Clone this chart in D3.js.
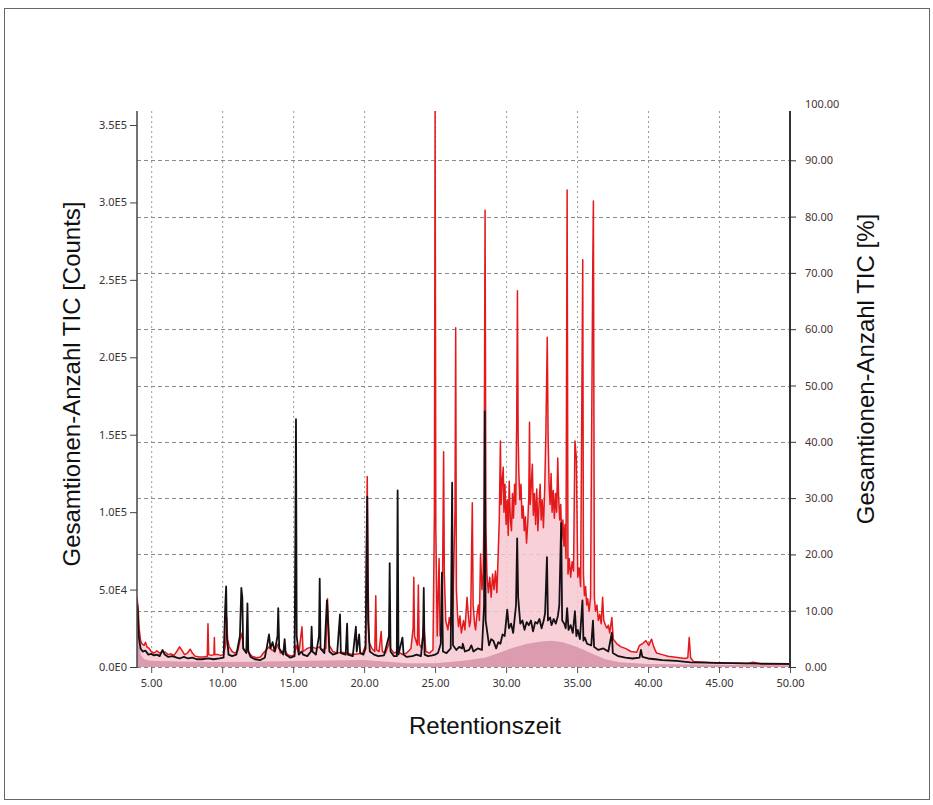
<!DOCTYPE html>
<html>
<head>
<meta charset="utf-8">
<script src="https://cdn.jsdelivr.net/npm/d3@7"></script>
<style>
  body { margin: 0; background: #fff; }
  .tick text { font-family: "Noto Sans", sans-serif; font-size: 11px; fill: #3a3333; }
  .titel { font-family: "Liberation Sans", Arial, sans-serif; font-size: 24px; fill: #111; }
</style>
</head>
<body>
<script>
// Achsen-Ticks
var xTicks = [5, 10, 15, 20, 25, 30, 35, 40, 45, 50];
var linksTicks = [0, 50000, 100000, 150000, 200000, 250000, 300000, 350000];
var rechtsTicks = [0, 10, 20, 30, 40, 50, 60, 70, 80, 90, 100];

// Rote Spur: [Retentionszeit, Counts]
var rotSpur = [
  [4.00, 45000], [4.08, 38000], [4.15, 25000], [4.25, 17000], [4.35, 15000], [4.50, 14000],
  [4.60, 16000], [4.70, 13000], [4.85, 12000], [5.00, 10000], [5.20, 9000], [5.40, 10500],
  [5.60, 9000], [5.80, 10000], [6.00, 9500], [6.20, 8000], [6.40, 8500], [6.60, 7500],
  [6.80, 10000], [7.00, 13000], [7.15, 11000], [7.35, 8000], [7.55, 9000], [7.75, 11500],
  [7.90, 9000], [8.10, 7000], [8.40, 6500], [8.70, 6500], [8.95, 7000], [9.00, 28000],
  [9.05, 8000], [9.25, 7500], [9.42, 8000], [9.45, 19000], [9.48, 8000], [9.70, 8000],
  [9.90, 7500], [10.10, 8000], [10.25, 15000], [10.32, 32000], [10.38, 18000], [10.50, 13000],
  [10.70, 10000], [10.90, 9000], [11.10, 10500], [11.25, 17000], [11.40, 22000], [11.50, 12000],
  [11.70, 10000], [11.80, 12000], [11.90, 9000], [12.10, 7000], [12.40, 6000], [12.70, 6500],
  [12.90, 9000], [13.10, 11000], [13.30, 13000], [13.50, 11000], [13.70, 10000], [13.95, 15000],
  [14.10, 9000], [14.40, 11000], [14.60, 8000], [14.90, 7000], [15.10, 8000], [15.20, 14000],
  [15.40, 9000], [15.62, 26000], [15.70, 10000], [16.00, 12000], [16.30, 13000], [16.60, 12000],
  [16.85, 13000], [17.00, 11000], [17.30, 12000], [17.42, 44000], [17.55, 14000], [17.80, 10000],
  [18.10, 9000], [18.40, 9500], [18.80, 9000], [19.20, 8000], [19.60, 8500], [19.90, 9000],
  [20.10, 14000], [20.18, 97000], [20.22, 123000], [20.27, 60000], [20.35, 16000], [20.55, 12000],
  [20.75, 10000], [20.82, 46000], [20.88, 11000], [21.05, 10000], [21.20, 23000], [21.28, 10000],
  [21.50, 9000], [21.75, 15000], [21.80, 38000], [21.85, 12000], [22.10, 9000], [22.40, 10000],
  [22.70, 8000], [23.00, 9000], [23.30, 12000], [23.45, 25000], [23.50, 58000], [23.55, 20000],
  [23.75, 14000], [23.82, 53000], [23.88, 15000], [24.05, 12000], [24.20, 28000], [24.35, 10000],
  [24.60, 9000], [24.85, 11000], [24.95, 100000], [25.00, 360000], [25.05, 90000], [25.15, 20000],
  [25.28, 70000], [25.35, 20000], [25.50, 30000], [25.60, 139000], [25.65, 60000], [25.75, 30000],
  [25.90, 24000], [26.00, 32000], [26.10, 26000], [26.25, 40000], [26.40, 100000], [26.45, 219000],
  [26.50, 50000], [26.58, 34000], [26.65, 26000], [26.75, 33000], [26.85, 22000], [27.00, 30000],
  [27.10, 24000], [27.25, 45000], [27.32, 36000], [27.42, 26000], [27.50, 30000], [27.62, 106000],
  [27.68, 40000], [27.78, 28000], [27.85, 24000], [27.95, 34000], [28.05, 40000], [28.12, 30000],
  [28.20, 73000], [28.30, 50000], [28.38, 60000], [28.45, 100000], [28.52, 295000], [28.58, 90000],
  [28.65, 60000], [28.75, 48000], [28.85, 58000], [28.95, 45000], [29.05, 60000], [29.15, 50000],
  [29.25, 62000], [29.35, 48000], [29.45, 75000], [29.52, 95000], [29.60, 146000], [29.65, 105000],
  [29.72, 120000], [29.80, 129000], [29.85, 100000], [29.92, 118000], [30.00, 92000], [30.08, 108000],
  [30.15, 85000], [30.22, 120000], [30.30, 95000], [30.38, 88000], [30.45, 112000], [30.52, 96000],
  [30.60, 118000], [30.68, 105000], [30.75, 160000], [30.80, 243000], [30.85, 150000], [30.90, 125000],
  [30.97, 108000], [31.05, 118000], [31.12, 96000], [31.20, 104000], [31.28, 88000], [31.36, 97000],
  [31.44, 80000], [31.52, 92000], [31.60, 110000], [31.65, 158000], [31.70, 105000], [31.78, 118000],
  [31.85, 131000], [31.92, 98000], [32.00, 112000], [32.08, 92000], [32.16, 115000], [32.24, 88000],
  [32.32, 105000], [32.40, 118000], [32.47, 95000], [32.55, 108000], [32.63, 90000], [32.72, 115000],
  [32.80, 150000], [32.90, 213000], [32.96, 150000], [33.03, 118000], [33.10, 105000], [33.17, 125000],
  [33.24, 100000], [33.32, 114000], [33.40, 96000], [33.48, 112000], [33.56, 100000], [33.64, 135000],
  [33.70, 110000], [33.78, 95000], [33.85, 105000], [33.92, 82000], [34.00, 95000], [34.08, 78000],
  [34.15, 92000], [34.22, 70000], [34.30, 308000], [34.36, 60000], [34.45, 70000], [34.55, 58000],
  [34.65, 68000], [34.75, 62000], [34.85, 146000], [34.95, 135000], [35.05, 58000], [35.15, 64000],
  [35.25, 52000], [35.40, 263000], [35.45, 60000], [35.52, 46000], [35.60, 52000], [35.68, 40000],
  [35.75, 44000], [35.85, 36000], [35.95, 45000], [36.10, 252000], [36.15, 301000], [36.22, 45000],
  [36.30, 36000], [36.40, 40000], [36.50, 30000], [36.60, 34000], [36.70, 28000], [36.80, 45000],
  [36.88, 30000], [37.00, 27000], [37.10, 25000], [37.20, 27000], [37.30, 22000], [37.45, 32000],
  [37.55, 18000], [37.80, 15000], [38.10, 13000], [38.40, 12000], [38.80, 10000], [39.20, 9500],
  [39.40, 14000], [39.60, 15000], [39.85, 17000], [40.05, 14000], [40.25, 18000], [40.40, 13000],
  [40.60, 9000], [41.00, 8000], [41.40, 7000], [41.80, 6500], [42.20, 6000], [42.60, 5500],
  [42.80, 6000], [42.90, 19000], [43.00, 6000], [43.20, 3500], [44.00, 3000], [45.00, 2500],
  [46.00, 2500], [47.00, 2200], [47.40, 3000], [48.00, 2000], [49.00, 2000], [50.00, 1800]
];

// Schwarze Spur: [Retentionszeit, Counts]
var schwarzSpur = [
  [4.00, 41000], [4.05, 37000], [4.12, 20000], [4.25, 12000], [4.40, 10000], [4.60, 10500],
  [4.80, 8000], [5.00, 8500], [5.20, 7500], [5.40, 8000], [5.60, 7000], [5.80, 11000],
  [5.95, 8000], [6.20, 6500], [6.50, 7000], [6.80, 6000], [7.00, 5500], [7.30, 6500],
  [7.60, 5500], [7.90, 6000], [8.20, 5000], [8.60, 5000], [9.00, 5500], [9.40, 5000],
  [9.80, 5500], [10.10, 6000], [10.22, 40000], [10.28, 52000], [10.33, 20000], [10.45, 8000],
  [10.70, 7000], [11.00, 8000], [11.25, 20000], [11.35, 51000], [11.42, 45000], [11.48, 12000],
  [11.70, 9000], [11.78, 41000], [11.84, 10000], [12.00, 6500], [12.30, 5000], [12.70, 4500],
  [13.00, 6000], [13.15, 13000], [13.30, 21000], [13.40, 12000], [13.55, 16000], [13.70, 10000],
  [13.90, 20000], [13.95, 38000], [14.02, 12000], [14.30, 8000], [14.40, 18000], [14.48, 8000],
  [14.80, 6000], [15.10, 7000], [15.15, 77000], [15.20, 160000], [15.25, 20000], [15.40, 8000],
  [15.60, 10000], [15.70, 8000], [16.00, 7000], [16.25, 10000], [16.30, 26000], [16.36, 10000],
  [16.60, 8000], [16.82, 20000], [16.87, 57000], [16.93, 12000], [17.20, 9000], [17.38, 43000],
  [17.45, 30000], [17.55, 10000], [17.80, 8000], [18.10, 9000], [18.30, 34000], [18.36, 9000],
  [18.70, 8000], [18.80, 28000], [18.86, 8000], [19.20, 7000], [19.42, 26000], [19.48, 10000],
  [19.65, 21000], [19.72, 9000], [19.95, 8000], [20.10, 12000], [20.18, 77000], [20.22, 110000],
  [20.28, 30000], [20.40, 10000], [20.70, 8000], [21.00, 7000], [21.40, 7500], [21.75, 20000],
  [21.80, 67000], [21.86, 10000], [22.10, 7000], [22.30, 7000], [22.36, 114000], [22.42, 8000],
  [22.70, 19000], [22.78, 8000], [23.00, 6500], [23.40, 7000], [23.70, 8000], [24.00, 7000],
  [24.15, 20000], [24.20, 51000], [24.26, 8000], [24.50, 7000], [24.80, 7500], [25.00, 8000],
  [25.20, 9000], [25.40, 15000], [25.48, 61000], [25.55, 10000], [25.80, 9000], [26.10, 12000],
  [26.20, 119000], [26.26, 14000], [26.50, 11000], [26.70, 13000], [26.90, 12000], [26.95, 15000],
  [27.10, 10000], [27.40, 11000], [27.55, 14000], [27.70, 10000], [28.00, 12000], [28.30, 11000],
  [28.45, 40000], [28.50, 165000], [28.56, 30000], [28.80, 14000], [28.95, 18000], [29.10, 17000],
  [29.30, 12000], [29.45, 16000], [29.60, 15000], [29.75, 21000], [29.90, 20000], [30.08, 37000],
  [30.20, 25000], [30.35, 28000], [30.50, 22000], [30.70, 40000], [30.78, 83000], [30.85, 45000],
  [31.00, 28000], [31.15, 30000], [31.30, 24000], [31.45, 29000], [31.60, 27000], [31.75, 30000],
  [31.90, 23000], [32.05, 29000], [32.20, 28000], [32.35, 31000], [32.50, 25000], [32.65, 30000],
  [32.75, 35000], [32.88, 71000], [32.95, 30000], [33.10, 32000], [33.20, 27000], [33.35, 31000],
  [33.50, 28000], [33.65, 33000], [33.75, 40000], [33.88, 93000], [33.95, 30000], [34.10, 28000],
  [34.20, 25000], [34.30, 38000], [34.40, 24000], [34.55, 27000], [34.70, 22000], [34.85, 36000],
  [34.95, 20000], [35.05, 24000], [35.20, 18000], [35.38, 43000], [35.45, 17000], [35.55, 19000],
  [35.70, 15000], [36.00, 14000], [36.12, 30000], [36.20, 13000], [36.50, 11000], [36.85, 12000],
  [37.20, 10000], [37.45, 22000], [37.52, 9000], [37.90, 7000], [38.40, 6000], [38.90, 5500],
  [39.40, 6000], [39.50, 11000], [39.60, 6500], [40.00, 5500], [40.50, 5000], [41.00, 4500],
  [42.00, 4000], [43.00, 3000], [44.00, 2800], [46.00, 2500], [48.00, 2200], [50.00, 2000]
];

// Untergrund (gefuellter Buckel): [Retentionszeit, Counts]
var untergrund = [
  [4.00, 35000], [4.10, 20000], [4.25, 8000], [4.50, 5000], [5.00, 4000], [7.00, 3500],
  [10.00, 3200], [13.00, 3500], [16.00, 4000], [20.00, 4500], [23.00, 2500], [25.00, 2500],
  [27.00, 4000], [28.50, 6000], [29.50, 9000], [30.50, 12500], [31.50, 15000], [32.50, 16500],
  [33.20, 17000], [34.00, 16000], [34.80, 13500], [35.50, 11000], [36.20, 8000], [37.00, 5000],
  [38.00, 3000], [40.00, 2000], [45.00, 1500], [50.00, 1200]
];

// Plotbereich in Pixeln.
var links = 137, rechts = 790, oben = 111, unten = 667;

var svg = d3.select("body").append("svg")
    .attr("width", 933)
    .attr("height", 805);

// Rahmen
svg.append("rect")
    .attr("x", 4.5).attr("y", 8.5)
    .attr("width", 925).attr("height", 791)
    .attr("fill", "none")
    .attr("stroke", "#666")
    .attr("stroke-width", 1);

var x = d3.scaleLinear().domain([4, 50]).range([links, rechts]);
var yLinks = d3.scaleLinear().domain([0, 350000]).range([unten, 125]);
var yRechts = d3.scaleLinear().domain([0, 100]).range([unten, 104]);

svg.append("clipPath").attr("id", "plot")
  .append("rect")
    .attr("x", links).attr("y", oben)
    .attr("width", rechts - links).attr("height", unten - oben);

// Vertikale Gitterlinien
svg.append("g")
    .selectAll("line")
    .data(xTicks.filter(function(d) { return d < 50; }))
    .join("line")
    .attr("x1", function(d) { return x(d) + 0.5; })
    .attr("x2", function(d) { return x(d) + 0.5; })
    .attr("y1", oben).attr("y2", unten)
    .attr("stroke", "#9a9a9a")
    .attr("stroke-dasharray", "2,3");

// Horizontale Gitterlinien (rechte Achse)
svg.append("g")
    .selectAll("line")
    .data(rechtsTicks.filter(function(d) { return d < 100; }))
    .join("line")
    .attr("x1", links).attr("x2", rechts)
    .attr("y1", function(d) { return Math.round(yRechts(d)) + 0.5; })
    .attr("y2", function(d) { return Math.round(yRechts(d)) + 0.5; })
    .attr("stroke", "#8a8a8a")
    .attr("stroke-dasharray", "4,3");

var flaeche = d3.area()
    .x(function(d) { return x(d[0]); })
    .y0(unten)
    .y1(function(d) { return yLinks(d[1]); });

var linie = d3.line()
    .x(function(d) { return x(d[0]); })
    .y(function(d) { return yLinks(d[1]); });

var plot = svg.append("g").attr("clip-path", "url(#plot)");

// Rosa Flaeche unter der roten Spur
plot.append("path")
    .datum(rotSpur)
    .attr("fill", "#f6c8d1")
    .attr("fill-opacity", 0.85)
    .attr("d", flaeche);

// Untergrund-Buckel
plot.append("path")
    .datum(untergrund)
    .attr("fill", "#d896ab")
    .attr("fill-opacity", 0.9)
    .attr("d", flaeche);

// Rote Spur
plot.append("path")
    .datum(rotSpur)
    .attr("fill", "none")
    .attr("stroke", "#e3191c")
    .attr("stroke-width", 1.5)
    .attr("stroke-linejoin", "round")
    .attr("d", linie);

// Schwarze Spur
plot.append("path")
    .datum(schwarzSpur)
    .attr("fill", "none")
    .attr("stroke", "#141014")
    .attr("stroke-width", 1.8)
    .attr("stroke-linejoin", "round")
    .attr("d", linie);

// X-Achse
var xAchse = svg.append("g")
    .attr("transform", "translate(0," + unten + ")")
    .call(d3.axisBottom(x).tickValues(xTicks).tickSize(6).tickPadding(6)
      .tickFormat(d3.format(".2f")));
xAchse.select(".domain").remove();
xAchse.selectAll(".tick line").attr("stroke", "#555");

// Linke Achse
var expFormat = function(d) {
  return d3.format(".1e")(d).replace("e+", "E").replace("e-", "E-");
};
var yAchseL = svg.append("g")
    .attr("transform", "translate(" + links + ",0)")
    .call(d3.axisLeft(yLinks).tickValues(linksTicks).tickSize(7).tickPadding(3)
      .tickFormat(expFormat));
yAchseL.select(".domain").remove();
yAchseL.selectAll(".tick line").attr("stroke", "#444");
svg.append("line")
    .attr("x1", links).attr("x2", links)
    .attr("y1", oben).attr("y2", unten + 1)
    .attr("stroke", "#444").attr("stroke-width", 1.5);

// Rechte Achse
var yAchseR = svg.append("g")
    .attr("transform", "translate(" + rechts + ",0)")
    .call(d3.axisRight(yRechts).tickValues(rechtsTicks).tickSize(6).tickPadding(9)
      .tickFormat(d3.format(".2f")));
yAchseR.select(".domain").remove();
yAchseR.selectAll(".tick line").attr("stroke", "#333");
yAchseR.selectAll(".tick").filter(function(d) { return d === 100; }).select("line").remove();
yAchseR.selectAll(".tick text").style("fill", "#4a3535");
svg.append("line")
    .attr("x1", rechts).attr("x2", rechts)
    .attr("y1", oben).attr("y2", unten + 1)
    .attr("stroke", "#333").attr("stroke-width", 2);

// Achsentitel
svg.append("text")
    .attr("class", "titel")
    .attr("text-anchor", "middle")
    .attr("transform", "translate(80,384) rotate(-90)")
    .text("Gesamtionen-Anzahl TIC [Counts]");

svg.append("text")
    .attr("class", "titel")
    .attr("text-anchor", "middle")
    .attr("transform", "translate(874,369) rotate(-90)")
    .text("Gesamtionen-Anzahl TIC [%]");

svg.append("text")
    .attr("class", "titel")
    .attr("text-anchor", "middle")
    .attr("x", 485)
    .attr("y", 734)
    .text("Retentionszeit");
</script>
</body>
</html>
